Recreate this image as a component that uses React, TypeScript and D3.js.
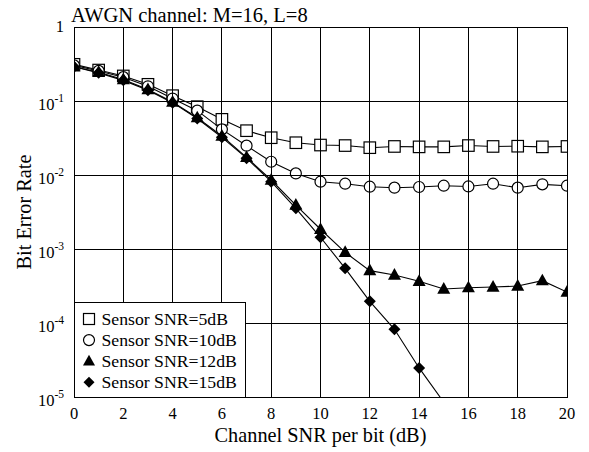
import React, { useEffect } from "react";
import * as d3 from "d3";

const snr = d3.range(0, 21);
const ber5 = [0.313, 0.262, 0.218, 0.168, 0.118, 0.0838, 0.0565, 0.0397, 0.0319, 0.0273, 0.0254, 0.025, 0.0234, 0.0243, 0.024, 0.024, 0.025, 0.0243, 0.0245, 0.024, 0.0243];
const ber10 = [0.303, 0.255, 0.21, 0.158, 0.108, 0.074, 0.0414, 0.0249, 0.0151, 0.0105, 0.00812, 0.00763, 0.00695, 0.00674, 0.00688, 0.00717, 0.007, 0.00763, 0.00674, 0.00748, 0.00717];
const ber12 = [0.29, 0.245, 0.195, 0.143, 0.097, 0.0595, 0.0337, 0.0173, 0.00856, 0.00393, 0.00185, 0.0009, 0.00051, 0.000445, 0.000366, 0.000288, 0.0003, 0.000306, 0.000316, 0.000373, 0.000262];
const snr15 = d3.range(0, 16);
const ber15 = [0.29, 0.24, 0.19, 0.14, 0.095, 0.058, 0.0323, 0.0169, 0.00812, 0.00355, 0.00144, 0.000548, 0.000196, 0.0000822, 0.0000247, 0.0000085];

const xTicks = [0, 2, 4, 6, 8, 10, 12, 14, 16, 18, 20];
const yExps = [0, -1, -2, -3, -4, -5];
const legendLabels = ["Sensor SNR=5dB", "Sensor SNR=10dB", "Sensor SNR=12dB", "Sensor SNR=15dB"];
const title = "AWGN channel: M=16, L=8";
const xLabel = "Channel SNR per bit (dB)";
const yLabel = "Bit Error Rate";

const W = 589, H = 452;
const L = 74, T = 27, R = 567, B = 397;
const FONT = "'Liberation Serif', 'Times New Roman', Times, serif";

type Shape = "square" | "circle" | "triangle" | "diamond";

function Marker({ shape, x, y, s }: { shape: Shape; x: number; y: number; s: number }) {
  if (shape === "square")
    return <rect x={x - s / 2} y={y - s / 2} width={s} height={s} fill="white" stroke="black" strokeWidth={1.2} />;
  if (shape === "circle")
    return <circle cx={x} cy={y} r={s / 2} fill="white" stroke="black" strokeWidth={1.2} />;
  if (shape === "triangle") {
    const h = s * 0.9;
    return <path d={`M${x},${y - h * 0.6}L${x + s / 2},${y + h * 0.4}L${x - s / 2},${y + h * 0.4}Z`} fill="black" />;
  }
  const r = s / 2;
  return <path d={`M${x},${y - r}L${x + r},${y}L${x},${y + r}L${x - r},${y}Z`} fill="black" />;
}

export default function App() {
  useEffect(() => {
    document.body.style.margin = "0";
  }, []);

  const x = d3.scaleLinear().domain([0, 20]).range([L, R]);
  const y = d3.scaleLog().domain([1e-5, 1]).range([B, T]);

  const line = d3
    .line<[number, number]>()
    .x((d) => x(d[0]))
    .y((d) => y(d[1]));

  const series: { xs: number[]; ys: number[]; shape: Shape; size: number }[] = [
    { xs: snr, ys: ber5, shape: "square", size: 11.5 },
    { xs: snr, ys: ber10, shape: "circle", size: 11 },
    { xs: snr, ys: ber12, shape: "triangle", size: 13 },
    { xs: snr15, ys: ber15, shape: "diamond", size: 12 },
  ];

  return (
    <svg width={W} height={H} style={{ display: "block", fontFamily: FONT }}>
      <rect width={W} height={H} fill="white" />
      <defs>
        <clipPath id="plot">
          <rect x={L} y={T} width={R - L} height={B - T} />
        </clipPath>
      </defs>
      <g clipPath="url(#plot)">
        {series.map((s, i) => (
          <path
            key={i}
            d={line(s.xs.map((v, j) => [v, s.ys[j]] as [number, number])) || ""}
            fill="none"
            stroke="black"
            strokeWidth={1.1}
          />
        ))}
        {series.map((s, i) =>
          s.xs.map((v, j) =>
            s.ys[j] >= 1e-5 ? (
              <Marker key={`${i}-${j}`} shape={s.shape} x={x(v)} y={y(s.ys[j])} s={s.size} />
            ) : null
          )
        )}
      </g>
      {/* grid */}
      <g stroke="black" strokeWidth={1} shapeRendering="crispEdges">
        {xTicks.map((t) => (
          <line key={t} x1={x(t)} x2={x(t)} y1={T} y2={B} />
        ))}
        {yExps.map((e) => (
          <line key={e} x1={L} x2={R} y1={y(Math.pow(10, e))} y2={y(Math.pow(10, e))} />
        ))}
        <rect x={L} y={T} width={R - L} height={B - T} fill="none" />
      </g>
      {/* x tick labels */}
      {xTicks.map((t) => (
        <text key={t} x={x(t)} y={B + 22} textAnchor="middle" fontSize={16.5}>
          {t}
        </text>
      ))}
      {/* y tick labels */}
      {yExps.map((e) =>
        e === 0 ? (
          <text key={e} x={64} y={y(1) + 5} textAnchor="end" fontSize={16.5}>
            1
          </text>
        ) : (
          <text key={e} x={64} y={y(Math.pow(10, e)) + 9} textAnchor="end" fontSize={16.5}>
            10
            <tspan fontSize={11.5} dy={-8}>
              {String(e)}
            </tspan>
          </text>
        )
      )}
      {/* legend */}
      <g>
        <rect x={L} y={302} width={171} height={B - 302} fill="white" stroke="black" strokeWidth={1} shapeRendering="crispEdges" />
        {legendLabels.map((lab, i) => {
          const cy = 319 + i * 21.1;
          const sh = series[i].shape;
          return (
            <g key={lab}>
              <Marker shape={sh} x={89} y={cy} s={sh === "triangle" ? 12 : 11} />
              <text x={101.5} y={cy + 6} fontSize={17.7}>
                {lab}
              </text>
            </g>
          );
        })}
      </g>
      {/* title & axis labels */}
      <text x={71} y={22} fontSize={20.5}>
        {title}
      </text>
      <text x={(L + R) / 2} y={442} textAnchor="middle" fontSize={20.3}>
        {xLabel}
      </text>
      <text transform={`translate(31,${(T + B) / 2}) rotate(-90)`} textAnchor="middle" fontSize={20.3}>
        {yLabel}
      </text>
    </svg>
  );
}
